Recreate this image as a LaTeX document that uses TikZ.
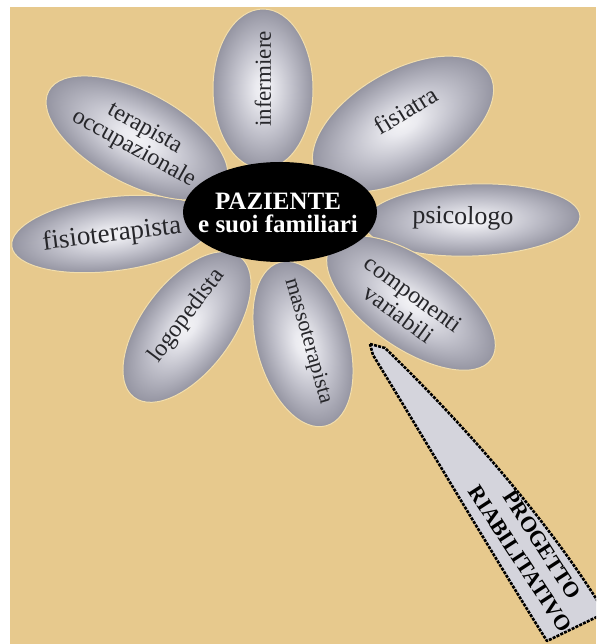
\documentclass[tikz,border=0pt]{standalone}
\usepackage{fontspec}
\setmainfont{Liberation Serif}
\usetikzlibrary{shapes.geometric}
\definecolor{bg}{RGB}{231,201,141}
\definecolor{stemfill}{RGB}{212,212,220}
\definecolor{rimc}{RGB}{242,222,172}
\definecolor{txt}{RGB}{38,38,42}
\pgfdeclareradialshading{petalshade}{\pgfpoint{0bp}{0bp}}{rgb(0bp)=(0.95,0.95,0.96); rgb(4bp)=(0.92,0.92,0.94); rgb(14bp)=(0.76,0.76,0.80); rgb(24bp)=(0.60,0.60,0.65); rgb(31bp)=(0.46,0.46,0.51); rgb(35.5bp)=(0.33,0.33,0.37); rgb(50bp)=(0.33,0.33,0.37)}
\tikzset{
  petalstyle/.style={shading=petalshade, draw=rimc, line width=1pt},
  lbl/.style={text=txt, inner sep=0pt, align=center},
  stemstyle/.style={fill=stemfill, draw=black, line width=2.6pt, dash pattern=on 3pt off 1.2pt, line join=round},
  heart/.style={ellipse, fill=black, inner sep=0pt},
}
\newcommand\drawpetal[5]{%
  \begin{scope}[transform canvas={shift={(#1,#2)},rotate=#5}]
    \shade[petalstyle] (0,0) ellipse [x radius=#3, y radius=#4];
  \end{scope}}
\begin{document}
\begin{tikzpicture}[x=1pt,y=-1pt]
\useasboundingbox (0,0) rectangle (596,644);
\fill[white] (0,0) rectangle (596,644);
\fill[bg] (10,7) rectangle (596,644);
% stem
\begin{scope}
  \clip (10,7) rectangle (596,644);
  \draw[stemstyle] (370,344) -- (385,348) .. controls (470,430) and (555,530) .. (605,613)
     -- (547,641) .. controls (505,575) and (425,440) .. (373,355) -- cycle;
\end{scope}
% petals: x y a b rot
\drawpetal{263}{89}{50}{80}{0}
\drawpetal{403}{124}{100}{53}{30}
\drawpetal{472}{220}{108}{36}{2}
\drawpetal{411}{303}{98}{45}{-35}
\drawpetal{303}{344}{85}{46}{-74}
\drawpetal{187}{327}{88}{45}{53}
\drawpetal{112}{234}{101}{37}{7}
\drawpetal{137}{138}{100}{46}{-28}
% centre
\node[heart, minimum width=194pt, minimum height=100pt] (centre) at (280,212) {};
\node[text=white, inner sep=0pt, align=center, font=\bfseries\fontsize{25}{23}\selectfont] (paz) at (278,213) {PAZIENTE\\e suoi familiari};
% labels
\node[lbl, rotate=90, font=\fontsize{23}{23}\selectfont] (inf) at (263,79) {infermiere};
\node[lbl, rotate=31.5, font=\fontsize{25}{25}\selectfont] (fis) at (406,110) {fisiatra};
\node[lbl, rotate=-1, font=\fontsize{26}{26}\selectfont] (psi) at (463,218) {psicologo};
\node[lbl, rotate=-36, font=\fontsize{24}{25}\selectfont] (comp) at (406,304) {componenti\\variabili};
\node[lbl, rotate=-74, font=\fontsize{22}{22}\selectfont] (mass) at (308,341) {massoterapista};
\node[lbl, rotate=53, font=\fontsize{24}{24}\selectfont] (logo) at (187,316) {logopedista};
\node[lbl, rotate=7, font=\fontsize{27}{27}\selectfont] (fisio) at (112,235) {fisioterapista};
\node[lbl, rotate=-29, font=\fontsize{24}{23}\selectfont] (occ) at (139,139) {terapista\\occupazionale};
\node[lbl, text=black, rotate=-57, font=\bfseries\fontsize{22}{26}\selectfont] (prog) at (531,552) {PROGETTO\\RIABILITATIVO};
\end{tikzpicture}
\end{document}
